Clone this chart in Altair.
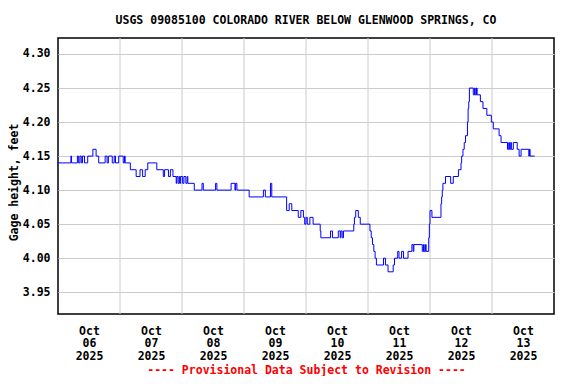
import altair as alt
import pandas as pd

# Hours after 2025-10-06 00:00 at which the gage reading changes, and the reading (feet)
hours = [
    0, 5.0, 5.25, 7.5, 8.0, 8.5, 9.0, 9.5, 10.25, 11.5, 13.5, 14.75, 15.75, 18.25, 19.0,
    19.5, 21.0, 21.75, 22.25, 23.5, 25.25, 25.75, 26.0, 28.0, 30.25, 31.75, 32.75, 33.75,
    34.75, 38.25, 40.75, 41.25, 42.75, 43.5, 44.5, 45.75, 46.0, 46.5, 47.0, 47.25, 47.5,
    48.25, 48.75, 49.5, 50.0, 50.25, 52.75, 55.75, 56.25, 61.0, 61.5, 67.0, 68.5, 68.75,
    69.25, 74.0, 79.5, 80.25, 82.25, 82.75, 88.5, 89.5, 90.5, 93.0, 94.0, 95.0, 95.5, 96.0,
    96.5, 97.5, 98.75, 101.5, 101.75, 105.5, 106.25, 108.5, 109.25, 109.5, 110.0, 110.5,
    114.5, 114.75, 115.25, 116.25, 117.0, 120.75, 121.25, 121.75, 122.25, 122.75, 123.25,
    126.0, 126.75, 127.75, 129.75, 130.25, 131.5, 132.0, 133.0, 133.75, 135.5, 137.0,
    137.5, 137.75, 141.0, 141.5, 141.75, 142.25, 142.5, 143.5, 143.75, 144.0, 144.75,
    148.25, 148.5, 148.75, 149.0, 150.0, 152.0, 153.0, 155.0, 156.0, 156.25, 156.75,
    157.25, 157.75, 158.5, 158.75, 159.0, 159.25, 160.75, 161.25, 161.5, 162.0, 162.25,
    163.5, 164.5, 166.0, 167.75, 168.5, 170.75, 171.5, 174.0, 174.5, 174.75, 175.25,
    175.5, 176.25, 177.75, 178.5, 179.25, 182.25, 182.5, 182.75, 184.5,
]
gage_ft = [
    4.14, 4.15, 4.14, 4.15, 4.14, 4.15, 4.14, 4.15, 4.14, 4.15, 4.16, 4.15, 4.14, 4.15, 4.14,
    4.15, 4.14, 4.15, 4.14, 4.15, 4.14, 4.15, 4.14, 4.13, 4.12, 4.13, 4.12, 4.13,
    4.14, 4.13, 4.12, 4.13, 4.12, 4.13, 4.12, 4.11, 4.12, 4.11, 4.12, 4.11, 4.12,
    4.11, 4.12, 4.11, 4.12, 4.11, 4.10, 4.11, 4.10, 4.11, 4.10, 4.11, 4.10, 4.11,
    4.10, 4.09, 4.10, 4.09, 4.11, 4.09, 4.07, 4.08, 4.07, 4.06, 4.07, 4.06, 4.05, 4.06,
    4.05, 4.06, 4.05, 4.04, 4.03, 4.04, 4.03, 4.04, 4.03, 4.04, 4.03, 4.04,
    4.05, 4.06, 4.07, 4.06, 4.05, 4.04, 4.03, 4.02, 4.01, 4.00, 3.99,
    4.00, 3.99, 3.98, 3.99, 4.00, 4.01, 4.00, 4.01, 4.00, 4.01, 4.02,
    4.01, 4.02, 4.01, 4.02, 4.01, 4.02, 4.01, 4.03, 4.05, 4.07, 4.06,
    4.08, 4.09, 4.10, 4.11, 4.12, 4.11, 4.12, 4.13, 4.14, 4.15, 4.16,
    4.17, 4.18, 4.20, 4.22, 4.23, 4.25, 4.24, 4.25, 4.24, 4.25, 4.24,
    4.23, 4.22, 4.21, 4.20, 4.19, 4.18, 4.17, 4.16, 4.17, 4.16, 4.17,
    4.16, 4.17, 4.16, 4.15, 4.16, 4.15, 4.16, 4.15, 4.15,
]
label_days = [6, 7, 8, 9, 10, 11, 12, 13]
grid_days = [7, 8, 9, 10, 11, 12, 13]
y_ticks = [3.95, 4.00, 4.05, 4.10, 4.15, 4.20, 4.25, 4.30]

FONT = "DejaVu Sans Mono"
start = pd.Timestamp("2025-10-06 00:00")
df = pd.DataFrame({
    "time": [start + pd.Timedelta(hours=h) for h in hours],
    "gage": gage_ft,
})
grid_df = pd.DataFrame({"time": [pd.Timestamp(2025, 10, d) for d in grid_days]})

x_scale = alt.Scale(domain=[alt.DateTime(year=2025, month=10, date=6),
                            alt.DateTime(year=2025, month=10, date=14)])
x_axis = alt.Axis(
    values=[alt.DateTime(year=2025, month=10, date=d, hours=12) for d in label_days],
    labelExpr="[timeFormat(datum.value, '%b'), timeFormat(datum.value, '%d'), timeFormat(datum.value, '%Y')]",
    grid=False, ticks=False, domain=False, labelOverlap=False,
    labelPadding=11, labelLineHeight=12.7,
    labelFont=FONT, labelFontSize=11.5, labelFontWeight="bold", labelColor="black",
    title="---- Provisional Data Subject to Revision ----",
    titleFont=FONT, titleFontSize=11.5, titleFontWeight="bold", titleColor="#ff0000",
    titleBaseline="alphabetic", titleY=59.5, titleX=248,
)
x_enc = alt.X("time:T", scale=x_scale, axis=x_axis)

rules = alt.Chart(grid_df).mark_rule(color="#cccccc", strokeWidth=1).encode(x=x_enc)

line = alt.Chart(df).mark_line(
    interpolate="step-after", color="#0000ff", strokeWidth=1
).encode(
    x=x_enc,
    y=alt.Y(
        "gage:Q",
        scale=alt.Scale(domain=[3.918, 4.3235], nice=False, zero=False),
        axis=alt.Axis(
            values=y_ticks, format=".2f",
            ticks=False, domain=False, grid=True, gridColor="#cccccc", gridWidth=1,
            labelPadding=8, labelFont=FONT, labelFontSize=11.5, labelFontWeight="bold",
            labelColor="black",
            title="Gage height, feet",
            titleFont=FONT, titleFontSize=11.5, titleFontWeight="bold", titleColor="black",
            titleAngle=270, titleBaseline="alphabetic", titleX=-41, titleY=144,
        ),
    ),
)

chart = alt.layer(rules, line).properties(
    width=496,
    height=276,
    title=alt.TitleParams(
        text="USGS 09085100 COLORADO RIVER BELOW GLENWOOD SPRINGS, CO",
        anchor="middle", font=FONT, fontSize=11.5, fontWeight="bold", color="black",
        baseline="alphabetic", offset=2,
    ),
    autosize=alt.AutoSizeParams(type="none"),
    padding={"left": 50, "top": 30, "right": 14, "bottom": 62},
    background="white",
).configure_view(stroke="black", strokeWidth=1.5)

chart.save("out.html", embed_options={"renderer": "svg", "actions": False})
